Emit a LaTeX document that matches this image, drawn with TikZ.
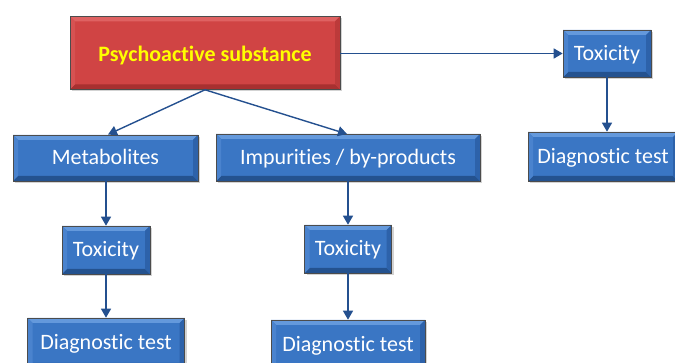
\documentclass[tikz,border=0pt]{standalone}
\usepackage{fontspec}
\setmainfont[RawFeature=-liga]{Carlito}
\usetikzlibrary{arrows.meta,shadows}
\definecolor{bluemid}{HTML}{3A76C4}
\definecolor{bluetopb}{HTML}{6499DC}
\definecolor{bluebotb}{HTML}{24528F}
\definecolor{blueleft}{HTML}{4A83CE}
\definecolor{blueright}{HTML}{2D62AA}
\definecolor{redmid}{HTML}{D04444}
\definecolor{redtopb}{HTML}{DF6262}
\definecolor{redbotb}{HTML}{A83030}
\definecolor{redleft}{HTML}{D65252}
\definecolor{redright}{HTML}{BC3A3A}
\definecolor{linec}{HTML}{24508F}
\definecolor{yellowtxt}{HTML}{FFFF00}
\tikzset{
  bevel/.style n args={5}{path picture={
    \fill[#1] (path picture bounding box.south west) rectangle (path picture bounding box.north east);
    \fill[#2] (path picture bounding box.north west) -- (path picture bounding box.north east)
      -- ([xshift=-5pt,yshift=-5pt]path picture bounding box.north east) -- ([xshift=5pt,yshift=-5pt]path picture bounding box.north west) -- cycle;
    \fill[#3] (path picture bounding box.south west) -- (path picture bounding box.south east)
      -- ([xshift=-5pt,yshift=5pt]path picture bounding box.south east) -- ([xshift=5pt,yshift=5pt]path picture bounding box.south west) -- cycle;
    \fill[#4] (path picture bounding box.north west) -- ([xshift=5pt,yshift=-5pt]path picture bounding box.north west)
      -- ([xshift=5pt,yshift=5pt]path picture bounding box.south west) -- (path picture bounding box.south west) -- cycle;
    \fill[#5] (path picture bounding box.north east) -- ([xshift=-5pt,yshift=-5pt]path picture bounding box.north east)
      -- ([xshift=-5pt,yshift=5pt]path picture bounding box.south east) -- (path picture bounding box.south east) -- cycle;
  }},
  boxbase/.style={rectangle, draw=black!70, line width=0.6pt, anchor=center,
    drop shadow={shadow xshift=2pt, shadow yshift=-2pt, opacity=0.35},
    font=\fontsize{22}{26}\selectfont, inner sep=0pt, text height=16pt, text depth=2pt},
  bluenode/.style={boxbase, fill=bluemid, bevel={bluemid}{bluetopb}{bluebotb}{blueleft}{blueright}, text=white},
  rednode/.style={boxbase, fill=redmid, bevel={redmid}{redtopb}{redbotb}{redleft}{redright}, text=yellowtxt, font=\fontsize{22}{26}\selectfont\bfseries, text height=20pt, text depth=2pt},
  conn/.style={draw=linec, line width=1.4pt, -{Triangle[length=9pt,width=10pt]}}
}
\begin{document}
\begin{tikzpicture}[x=1pt,y=-1pt]
\useasboundingbox (0,0) rectangle (675,363);
\node[rednode, minimum width=270pt, minimum height=73pt] (ps) at (205,53) {Psychoactive substance};
\node[bluenode, minimum width=185pt, minimum height=46pt] (met) at (105.5,158) {Metabolites};
\node[bluenode, minimum width=264pt, minimum height=47pt] (imp) at (348,157.5) {Impurities / by-products};
\node[bluenode, minimum width=88pt, minimum height=47pt] (tox3) at (607,53.5) {Toxicity};
\node[bluenode, minimum width=150pt, minimum height=49pt] (dia3) at (603,156.5) {Diagnostic test};
\node[bluenode, minimum width=88pt, minimum height=48pt] (tox1) at (106,250) {Toxicity};
\node[bluenode, minimum width=157pt, minimum height=50pt] (dia1) at (106,343) {Diagnostic test};
\node[bluenode, minimum width=87pt, minimum height=48pt] (tox2) at (348,249) {Toxicity};
\node[bluenode, minimum width=154pt, minimum height=50pt] (dia2) at (348,345) {Diagnostic test};
\draw[conn] (ps.south) -- (108,134.5);
\draw[conn] (ps.south) -- (347,134);
\draw[conn] (ps.east |- tox3.west) -- (tox3.west);
\draw[conn] (tox3.south) -- (dia3.north -| tox3.south);
\draw[conn] (met.south -| tox1.north) -- (tox1.north);
\draw[conn] (tox1.south) -- (dia1.north);
\draw[conn] (imp.south) -- (tox2.north);
\draw[conn] (tox2.south) -- (dia2.north);
\end{tikzpicture}
\end{document}
